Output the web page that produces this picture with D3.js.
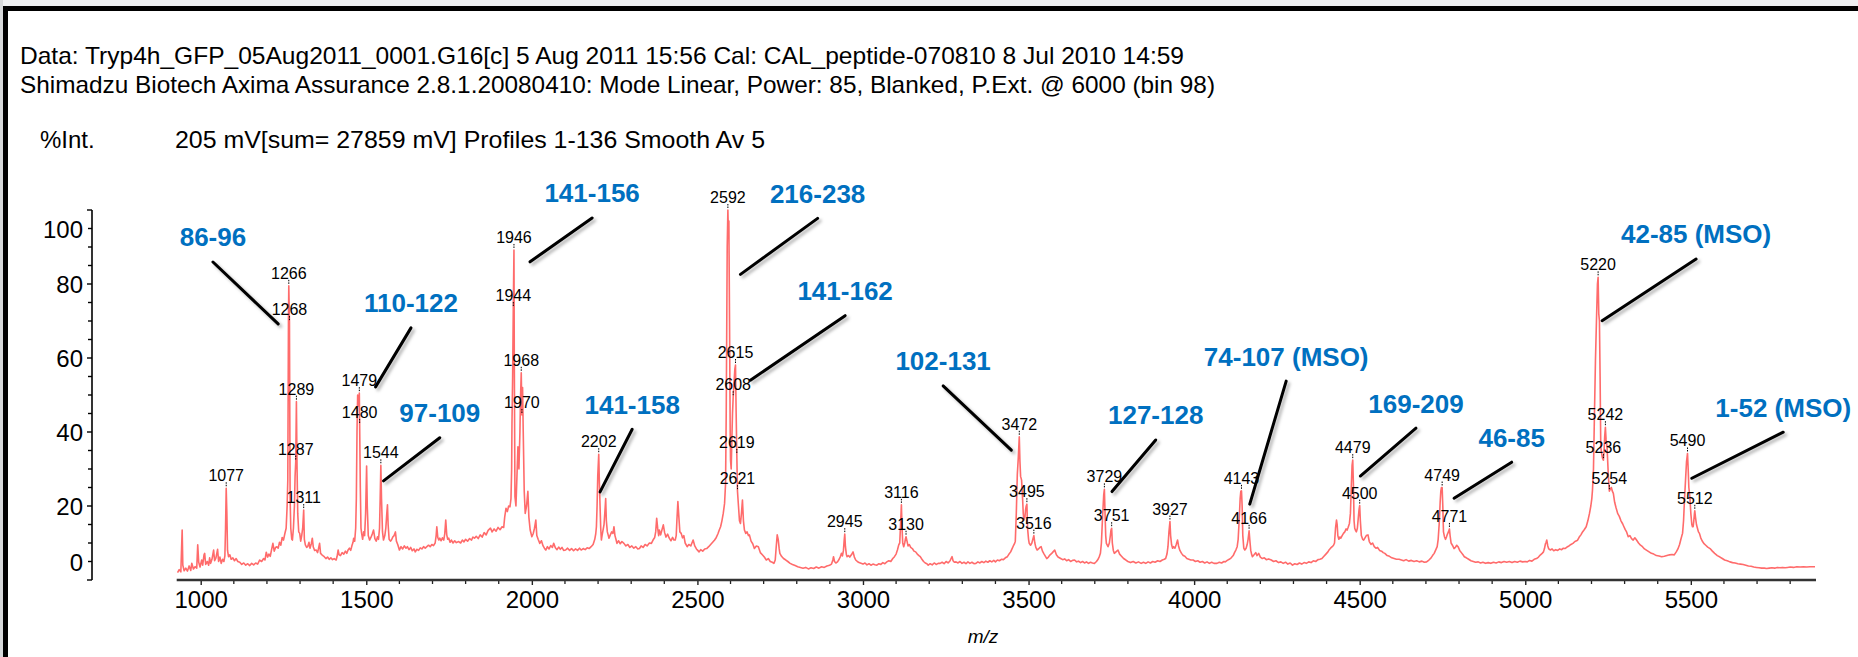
<!DOCTYPE html>
<html>
<head>
<meta charset="utf-8">
<script src="https://cdn.jsdelivr.net/npm/d3@7/dist/d3.min.js"></script>
<style>
  html, body { margin: 0; padding: 0; background: #fff; }
  svg { display: block; }
  text { font-family: "Liberation Sans", Arial, Helvetica, sans-serif; }
</style>
</head>
<body>
<svg id="chart" width="1858" height="657"></svg>
<script>
// ---- Header text ----
const headerLines = [
  "Data: Tryp4h_GFP_05Aug2011_0001.G16[c] 5 Aug 2011 15:56 Cal: CAL_peptide-070810 8 Jul 2010 14:59",
  "Shimadzu Biotech Axima Assurance 2.8.1.20080410: Mode Linear, Power: 85, Blanked, P.Ext. @ 6000 (bin 98)"
];
const intensityTitle = "%Int.";
const acquisitionInfo = "205 mV[sum= 27859 mV]  Profiles 1-136 Smooth Av 5";
const xAxisTitle = "m/z";

// ---- Axis ticks ----
const xTickValues = [1000, 1500, 2000, 2500, 3000, 3500, 4000, 4500, 5000, 5500];
const yTickValues = [0, 20, 40, 60, 80, 100];

// ---- Spectrum: [m/z, %Int] ----
const spectrum = [
[930,2.0],[935,2.8],[940,2.2],[944,13.5],[946,4.0],[950,2.5],[955,3.2],[960,2.4],[965,3.8],[970,2.6],
[973,4.5],[978,3.0],[983,3.6],[988,3.2],[991,9.5],[994,4.8],[998,3.5],[1003,5.4],[1006,4.0],[1010,6.8],
[1012,7.2],[1015,4.2],[1020,5.0],[1024,4.0],[1027,6.0],[1030,4.5],[1034,5.6],[1039,8.1],[1042,5.2],[1046,6.0],
[1051,8.3],[1054,5.0],[1058,6.2],[1062,4.5],[1066,5.6],[1070,5.0],[1073,6.5],[1075,14],[1077,24.8],[1079,18],
[1081,8],[1084,6.3],[1088,6.8],[1092,5.6],[1097,6.0],[1102,5.2],[1107,5.8],[1112,5.0],[1118,4.8],[1124,4.2],
[1130,4.6],[1136,4.0],[1142,4.4],[1148,3.9],[1154,4.5],[1160,4.1],[1166,4.6],[1172,4.3],[1178,5.4],[1184,5.0],
[1190,5.8],[1194,5.4],[1198,7.5],[1202,6.2],[1206,7.0],[1210,6.4],[1214,8.2],[1218,9.9],[1222,7.8],[1226,8.8],
[1230,9.0],[1234,8.6],[1238,10.2],[1242,9.4],[1246,11.5],[1250,10.8],[1254,12.5],[1258,14],[1261,20],[1263,27],
[1265,70],[1266,79.5],[1268,69.7],[1270,22],[1272,14],[1275,11],[1277,10.8],[1280,14],[1283,20],[1285,28],
[1287,32],[1289,48.2],[1291,30],[1293,18],[1296,13],[1299,12.6],[1302,10.5],[1305,12],[1308,14],[1311,18.9],
[1313,11],[1316,9.5],[1320,8.8],[1323,9.0],[1327,10.2],[1330,8.6],[1334,9.8],[1337,11.3],[1340,8.9],[1344,8.0],
[1349,8.1],[1353,7.4],[1356,8.6],[1359,9.9],[1362,7.2],[1366,6.8],[1370,6.5],[1373,6.3],[1378,5.8],[1383,6.2],
[1388,5.6],[1393,6.0],[1398,5.5],[1403,5.8],[1409,5.4],[1412,6.4],[1415,8.1],[1418,6.8],[1422,6.6],[1427,7.4],
[1432,7.0],[1437,7.8],[1441,7.2],[1445,8.1],[1449,8.6],[1453,8.0],[1457,9.4],[1460,10.2],[1462,11.3],[1465,10.5],
[1468,14],[1470,22],[1472,40],[1474,50],[1477,47],[1479,50.5],[1480,41.9],[1482,25],[1484,14],[1486,12.6],
[1489,11],[1492,13],[1495,12],[1498,18],[1501,30.8],[1503,20],[1506,12],[1510,10.8],[1514,11.5],[1518,12.4],
[1522,13.5],[1526,11.2],[1530,10.5],[1534,11.7],[1537,11.0],[1540,14],[1542,22],[1544,31],[1546,22],[1549,13],
[1552,10.8],[1556,12],[1559,14],[1562,18],[1564,20.3],[1566,15],[1569,11],[1573,10.5],[1576,10.8],[1580,11.6],
[1584,12],[1588,13],[1591,10.5],[1595,9.6],[1600,8.1],[1605,9.0],[1610,8.4],[1615,9.2],[1620,8.6],[1624,9.0],
[1629,8.2],[1634,8.8],[1639,7.9],[1644,8.4],[1648,7.6],[1653,8.3],[1658,8.0],[1663,8.7],[1668,8.4],[1673,9.0],
[1678,8.6],[1683,9.0],[1688,9.4],[1693,9.0],[1698,9.6],[1703,9.3],[1708,10.0],[1711,12],[1713,14.4],[1716,11.5],
[1719,10.8],[1722,11.3],[1726,10.6],[1730,11.4],[1734,10.8],[1737,12.5],[1740,16.2],[1743,12.2],[1746,11.0],[1749,11.3],
[1753,10.2],[1757,10.8],[1762,10.0],[1767,10.6],[1772,10.1],[1779,10.4],[1785,10.0],[1790,10.8],[1795,10.3],[1800,11.0],
[1806,10.5],[1812,11.2],[1818,10.8],[1822,11.6],[1827,11.3],[1832,11.8],[1838,11.2],[1844,12.2],[1850,11.6],[1856,12.8],
[1862,12.2],[1868,13.4],[1875,14],[1880,13.0],[1886,13.8],[1892,13.2],[1898,14.2],[1904,13.6],[1910,14.4],[1915,14.2],
[1918,17],[1922,19.4],[1926,18.5],[1930,20],[1934,19.8],[1937,22],[1939,30],[1940,42.3],[1942,55],[1944,73.5],
[1946,89.2],[1947,60],[1949,22.5],[1952,20],[1955,28],[1958,36],[1961,30],[1964,40],[1966,50],[1968,56],
[1970,44.6],[1972,52],[1974,40],[1977,24],[1980,18],[1984,20],[1988,24],[1991,17],[1995,13.5],[2000,11.7],
[2004,12.5],[2008,14],[2012,16.2],[2015,12],[2019,11],[2024,9.9],[2029,10.6],[2034,9.2],[2038,8.6],[2042,8.1],
[2047,9.0],[2052,8.4],[2057,9.3],[2062,8.8],[2066,9.9],[2071,8.7],[2076,8.2],[2081,8.9],[2086,8.3],[2091,8.8],
[2096,8.0],[2102,8.1],[2108,8.6],[2114,8.0],[2120,8.5],[2126,7.9],[2132,8.4],[2138,8.0],[2144,8.6],[2149,8.1],
[2155,8.5],[2161,8.2],[2167,8.7],[2173,8.5],[2179,9.0],[2185,9.6],[2190,11],[2193,12.5],[2195,14.4],[2197,20],
[2199,28],[2202,34],[2204,26],[2206,20],[2208,14],[2210,10.8],[2212,12],[2215,13.5],[2218,15],[2221,19],
[2223,22],[2225,16],[2228,13],[2231,12],[2233,11.3],[2237,12.2],[2241,13],[2245,12.6],[2248,14.4],[2251,12],
[2254,11],[2257,9.9],[2262,10.6],[2267,9.8],[2272,10.4],[2278,9.9],[2284,9.2],[2290,9.6],[2296,8.8],[2302,9.2],
[2308,8.6],[2314,9.0],[2320,8.4],[2325,8.5],[2330,9.2],[2336,8.8],[2342,9.6],[2348,9.2],[2355,10.0],[2361,9.9],
[2366,10.8],[2371,11.5],[2374,13],[2377,16.7],[2380,14],[2383,12],[2385,13.5],[2389,12.2],[2393,13.6],[2397,14.9],
[2401,12.8],[2405,11.6],[2410,12.4],[2415,11.3],[2420,10.6],[2425,11.5],[2429,10.8],[2433,10.8],[2436,12],[2438,16],
[2441,21.2],[2444,17],[2447,13],[2451,12.6],[2455,11.4],[2459,12],[2463,10],[2469,9.0],[2474,9.6],[2480,9.2],
[2487,10.8],[2492,9.2],[2497,8.4],[2501,8.0],[2505,7.6],[2510,8.2],[2516,7.8],[2522,8.4],[2528,8.5],[2534,9.0],
[2540,9.6],[2546,10.2],[2552,10.8],[2557,11.5],[2562,12.5],[2566,13.5],[2570,14.4],[2574,16],[2578,18],[2582,20.7],
[2585,26],[2587,45],[2590,90],[2592,100],[2593,96],[2595,97],[2597,70],[2599,40],[2600,32.4],[2602,30],
[2604,38],[2606,45],[2608,49.4],[2611,54],[2613,57],[2615,58.1],[2617,45],[2619,33.8],[2621,24],[2624,20],
[2627,16],[2630,15.3],[2633,18],[2636,21.6],[2639,16],[2642,13.5],[2646,12.6],[2650,13],[2654,12],[2657,12.2],
[2662,10.5],[2667,9.8],[2672,8.5],[2678,9.2],[2684,9.0],[2690,7.4],[2696,6.8],[2702,6.2],[2708,5.4],[2714,5.8],
[2720,5.0],[2726,4.8],[2731,4.5],[2735,5.4],[2738,9],[2741,12.2],[2744,11],[2747,8.4],[2749,7.2],[2754,6.4],
[2760,5.8],[2767,5.4],[2773,5.0],[2780,4.5],[2787,4.2],[2795,3.9],[2803,3.6],[2811,3.4],[2819,3.2],[2827,3.4],
[2835,3.0],[2843,3.3],[2851,3.1],[2859,3.5],[2867,3.2],[2875,3.6],[2883,3.4],[2891,3.8],[2899,4.0],[2905,4.3],
[2909,5.4],[2911,6.3],[2914,5.0],[2918,4.6],[2923,4.9],[2928,5.6],[2932,6.4],[2935,7.2],[2938,6.5],[2941,8],
[2943,10.5],[2945,12.4],[2947,9],[2950,6.8],[2952,6.3],[2956,6.6],[2960,6.2],[2965,6.8],[2970,7.6],[2974,6.2],
[2978,5.4],[2983,5.0],[2988,4.7],[2994,4.5],[3000,4.3],[3006,4.6],[3012,4.1],[3018,4.4],[3024,4.0],[3030,4.3],
[3036,4.1],[3042,4.0],[3048,4.4],[3054,4.2],[3060,4.7],[3066,4.4],[3072,4.9],[3078,5.2],[3084,5.0],[3090,5.8],
[3095,6.3],[3100,7.0],[3104,8.1],[3108,9.5],[3111,10],[3113,14],[3116,20.3],[3118,14],[3120,10],[3123,9.0],
[3126,10],[3128,11],[3130,11.7],[3133,10.5],[3136,9.2],[3140,9.6],[3144,8.8],[3149,8.5],[3154,7.8],[3159,7.6],
[3164,7.0],[3169,6.6],[3173,6.3],[3178,5.6],[3183,5.0],[3188,4.6],[3193,4.4],[3197,4.0],[3203,4.4],[3209,4.1],
[3215,4.6],[3221,4.2],[3227,4.5],[3233,4.5],[3239,4.8],[3245,4.4],[3251,5.0],[3257,4.6],[3263,5.2],[3266,5.8],
[3269,6.3],[3272,5.2],[3276,4.8],[3281,4.9],[3287,4.6],[3293,5.0],[3299,4.5],[3305,4.8],[3311,4.4],[3317,4.9],
[3323,4.5],[3329,4.8],[3335,4.4],[3341,4.5],[3347,4.9],[3353,4.6],[3359,5.0],[3365,4.7],[3371,5.1],[3377,4.8],
[3383,5.2],[3389,4.9],[3395,5.3],[3400,4.9],[3406,5.4],[3412,5.2],[3418,5.6],[3424,5.5],[3430,6.0],[3436,6.3],
[3441,7.0],[3446,7.6],[3450,8.4],[3454,9.2],[3458,9.9],[3460,10.5],[3463,18],[3466,28.4],[3469,33],[3472,38.7],
[3474,32],[3476,28],[3479,27],[3482,22],[3484,18],[3486,16.2],[3489,17],[3491,19],[3493,20],[3495,20.5],
[3497,14],[3500,11],[3502,9.9],[3506,9.4],[3510,10],[3513,11],[3516,12],[3519,10],[3522,8.8],[3526,8.1],
[3530,8.4],[3534,8.8],[3538,9.0],[3542,7.8],[3547,7.0],[3551,6.4],[3555,5.8],[3560,6.2],[3565,6.8],[3570,7.2],
[3574,7.6],[3579,8.1],[3584,6.8],[3589,6.2],[3593,6.0],[3597,5.8],[3603,5.5],[3609,5.7],[3615,5.2],[3621,5.5],
[3627,5.0],[3633,5.3],[3639,5.4],[3645,4.9],[3651,5.1],[3657,4.7],[3663,5.0],[3669,4.6],[3675,4.9],[3681,4.5],
[3687,4.8],[3693,4.6],[3699,4.5],[3705,5.0],[3710,5.6],[3714,6.4],[3717,7.2],[3720,10],[3724,18],[3727,23],
[3729,24.5],[3731,18],[3733,12],[3735,9.9],[3740,9.0],[3744,10],[3747,12],[3749,13.5],[3751,14],[3753,10],
[3756,8],[3759,7.2],[3764,7.6],[3770,8.1],[3775,7.0],[3780,6.5],[3787,5.8],[3794,5.4],[3800,5.0],[3808,4.7],
[3816,5.0],[3824,4.6],[3832,4.9],[3840,4.5],[3847,4.8],[3854,4.5],[3861,4.9],[3868,4.6],[3875,5.0],[3882,4.8],
[3890,5.2],[3897,5.0],[3904,5.4],[3910,5.6],[3914,5.8],[3918,7],[3921,9],[3924,13],[3927,15.8],[3929,12],
[3932,9.5],[3935,8.6],[3938,9.0],[3942,8.6],[3946,9.6],[3950,10.8],[3953,9.2],[3957,8.0],[3962,7.2],[3967,6.6],
[3972,6.4],[3978,5.8],[3984,5.6],[3990,5.4],[3997,5.4],[4004,5.0],[4011,5.2],[4018,4.8],[4025,5.0],[4032,4.6],
[4039,4.9],[4046,4.5],[4053,4.8],[4060,4.5],[4069,4.5],[4076,4.8],[4083,4.6],[4090,5.0],[4094,4.9],[4100,5.3],
[4106,5.6],[4112,6.0],[4118,6.6],[4122,7.4],[4126,8.1],[4130,9],[4133,11],[4136,16],[4139,22],[4141,24],
[4143,24.1],[4145,20],[4147,12],[4150,8.6],[4153,8.1],[4157,8.6],[4160,9.5],[4163,11],[4166,13.3],[4168,11],
[4171,8],[4174,6.8],[4176,6.3],[4181,6.8],[4186,7.4],[4190,6.6],[4195,7.2],[4200,6.2],[4206,5.8],[4212,6.0],
[4218,5.5],[4225,5.7],[4233,5.4],[4240,5.0],[4247,5.2],[4255,4.7],[4262,4.9],[4269,4.5],[4276,4.8],[4283,4.3],
[4290,4.6],[4297,4.0],[4304,4.4],[4311,4.2],[4318,4.6],[4325,4.3],[4332,4.7],[4339,4.5],[4346,4.9],[4353,4.7],
[4360,5.2],[4367,5.0],[4374,5.5],[4380,5.6],[4386,5.8],[4392,6.4],[4398,7.0],[4404,7.6],[4408,8.2],[4412,8.6],
[4417,9.0],[4421,9.4],[4424,10],[4427,14],[4430,16.2],[4432,15],[4434,12],[4437,11],[4440,11.6],[4443,11.3],
[4447,12],[4451,12.6],[4455,13],[4459,13.8],[4462,13.5],[4465,14.2],[4469,15.3],[4472,18],[4475,26],[4477,31],
[4479,32.4],[4481,26],[4483,16],[4485,14],[4487,13.5],[4490,13],[4493,14],[4496,17],[4498,19],[4500,20.1],
[4502,16],[4505,12],[4509,11],[4512,10.8],[4516,11.4],[4520,12],[4525,12.2],[4529,10.4],[4534,9.6],[4539,10],
[4544,9.0],[4549,8.6],[4554,8.8],[4560,8.0],[4566,7.8],[4571,7.4],[4576,7.2],[4583,6.6],[4590,6.4],[4597,6.0],
[4604,5.8],[4611,5.6],[4619,5.6],[4626,5.4],[4633,5.2],[4640,5.5],[4648,5.1],[4656,5.3],[4664,5.0],[4672,5.2],
[4680,4.9],[4688,5.1],[4695,4.8],[4702,4.9],[4709,5.4],[4715,5.9],[4720,6.6],[4725,7.2],[4729,8.0],[4732,8.6],
[4734,9],[4737,11],[4740,15],[4743,21],[4745,24],[4747,25],[4749,25],[4751,20],[4753,13],[4756,11.7],
[4759,11],[4762,11.6],[4765,12.4],[4768,13],[4771,13.8],[4773,12],[4776,10],[4780,9.4],[4785,8.5],[4789,8.8],
[4793,9.4],[4797,9.0],[4802,8.0],[4807,7.4],[4812,6.8],[4816,6.3],[4822,6.0],[4829,5.6],[4836,5.2],[4843,5.0],
[4850,4.8],[4858,4.9],[4865,4.6],[4872,4.8],[4880,4.5],[4888,4.7],[4896,4.5],[4904,4.8],[4912,4.6],[4920,4.9],
[4928,4.7],[4936,5.0],[4944,4.8],[4952,5.0],[4960,4.7],[4968,5.0],[4976,4.8],[4984,5.1],[4992,4.9],[5000,5.0],
[5006,4.9],[5013,5.3],[5020,5.1],[5027,5.6],[5034,5.8],[5040,6.2],[5046,6.8],[5051,7.2],[5055,7.6],[5058,8.5],
[5061,9.8],[5063,10.2],[5065,10.8],[5068,9.2],[5071,8.4],[5076,8.1],[5081,8.4],[5086,7.9],[5092,8.2],[5098,8.0],
[5104,8.4],[5110,8.2],[5115,8.6],[5120,8.5],[5126,8.9],[5132,9.2],[5138,9.6],[5144,9.9],[5150,10.4],[5155,10.6],
[5158,10.8],[5163,11.6],[5168,12.2],[5173,13],[5178,13.6],[5184,14.4],[5189,16],[5194,18],[5198,20],[5201,22],
[5203,24.3],[5206,30],[5209,45],[5212,59.4],[5215,70],[5218,80],[5220,81.8],[5222,72],[5224,70],[5226,55],
[5228,36],[5231,34],[5233,33],[5236,32.4],[5238,35],[5240,39],[5242,41.3],[5244,38],[5247,36],[5249,32],
[5251,28],[5254,24],[5257,24.6],[5260,25],[5263,24],[5266,23.4],[5270,21],[5274,19.6],[5279,18],[5284,17.2],
[5289,16],[5294,15.2],[5298,14.4],[5302,13.6],[5306,13],[5311,11.7],[5316,12],[5321,11.2],[5326,10.8],[5331,11.4],
[5336,10.8],[5342,10],[5348,9.4],[5354,9.0],[5360,8.4],[5367,8.0],[5374,7.6],[5381,7.2],[5388,7.0],[5396,6.6],
[5404,6.5],[5412,6.3],[5420,6.4],[5428,6.6],[5436,6.8],[5443,6.9],[5450,6.8],[5456,7.6],[5461,8.4],[5466,9.6],
[5470,11],[5473,12],[5475,12.6],[5478,16],[5481,22],[5484,27],[5487,32],[5490,34.2],[5492,30],[5494,25],
[5497,22.5],[5500,18],[5503,15],[5505,14.4],[5507,14.4],[5509,16],[5511,18],[5512,18.7],[5514,17],[5517,15],
[5520,14],[5523,13],[5526,12.6],[5530,11.4],[5534,10.6],[5539,9.9],[5545,9.4],[5551,8.9],[5558,8.5],[5565,7.8],
[5572,7.2],[5580,6.6],[5588,6.2],[5595,5.8],[5602,5.4],[5610,5.2],[5618,4.9],[5626,4.7],[5634,4.6],[5642,4.4],
[5650,4.3],[5658,4.2],[5666,4.0],[5674,3.8],[5682,3.7],[5690,3.5],[5698,3.4],[5706,3.3],[5714,3.2],[5722,3.2],
[5729,3.1],[5737,3.2],[5745,3.3],[5753,3.2],[5761,3.4],[5769,3.3],[5777,3.4],[5785,3.3],[5792,3.4],[5800,3.5],
[5810,3.4],[5820,3.6],[5830,3.5],[5840,3.6],[5850,3.5],[5860,3.6],[5875,3.6]
];

// ---- Picked peaks (m/z label and intensity at the marker) ----
const peakMz  = [1077,1266,1268,1287,1289,1311,1479,1480,1544,1944,1946,1968,1970,2202,
                 2592,2608,2615,2619,2621,2945,3116,3130,3472,3495,3516,3729,3751,3927,
                 4143,4166,4479,4500,4749,4771,5220,5236,5242,5254,5490,5512];
const peakInt = [24.8,79.5,69.7,32,48.2,18.9,50.5,41.9,31,73.5,89.2,56,44.6,34,
                 100,49.4,58.1,33.8,24,12.4,20.3,11.7,38.7,20.5,12,24.5,14,15.8,
                 24.1,13.3,32.4,20.1,25,13.8,81.8,32.4,41.3,24,34.2,18.7];

// ---- Peptide assignments: label anchor and leader end, in (m/z, %Int) ----
const fragText = ["86-96","110-122","97-109","141-156","141-158","216-238","141-162",
                  "102-131","127-128","74-107 (MSO)","169-209","46-85","42-85 (MSO)","1-52 (MSO)"];
const fragMz   = [1037,1635,1722,2182,2303,2863,2946,3242,3884,4278,4670,4959,5516,5779];
const fragInt  = [92.7,74.9,45.2,104.6,47.5,104.5,78.2,59.2,44.6,60.5,47.8,38.6,93.5,46.7];
const leaderMz  = [1233.8,1528,1552,1994.6,2206,2630,2660,3448,3752,4168,4502,4785,5232,5503];
const leaderInt = [69.2,52.2,26.8,86,23.8,82.6,54,35.1,23.9,20.5,28.1,22.1,70.1,27.5];

// ================= drawing =================
const W = 1858, H = 657;
const svg = d3.select("#chart");

// page frame
svg.append("rect").attr("x",0).attr("y",0).attr("width",W).attr("height",H).attr("fill","#fff");
svg.append("rect").attr("x",0).attr("y",0).attr("width",W).attr("height",6).attr("fill","#eeeff1");
svg.append("rect").attr("x",0).attr("y",0).attr("width",3).attr("height",H).attr("fill","#d6d8da");
svg.append("rect").attr("x",3).attr("y",6).attr("width",W-3).attr("height",5).attr("fill","#000");
svg.append("rect").attr("x",3).attr("y",6).attr("width",5).attr("height",H-6).attr("fill","#000");

const defs = svg.append("defs");
const shadow = defs.append("filter").attr("id","leaderShadow")
  .attr("x","-20%").attr("y","-20%").attr("width","140%").attr("height","140%");
shadow.append("feDropShadow").attr("dx",2.5).attr("dy",2.5).attr("stdDeviation",1.8)
  .attr("flood-color","#000").attr("flood-opacity",0.3);

// header
svg.append("text").attr("x",20).attr("y",64).attr("font-size",24)
  .attr("textLength",1164).attr("lengthAdjust","spacingAndGlyphs").text(headerLines[0]);
svg.append("text").attr("x",20).attr("y",92.5).attr("font-size",24)
  .attr("textLength",1195).attr("lengthAdjust","spacingAndGlyphs").text(headerLines[1]);
svg.append("text").attr("x",40).attr("y",148).attr("font-size",24).text(intensityTitle);
svg.append("text").attr("x",175).attr("y",148).attr("font-size",24)
  .attr("textLength",590).attr("lengthAdjust","spacingAndGlyphs").text(acquisitionInfo);

// scales
const x = d3.scaleLinear().domain([927.5, 5878]).range([176.7, 1816]);
const y = d3.scaleLinear().domain([0, 100]).range([580, 210]);

// y axis (ticks every 5 %, labels every 20 %)
const yAxisX = 92;
svg.append("line").attr("x1",yAxisX).attr("x2",yAxisX).attr("y1",y(100)).attr("y2",y(0))
  .attr("stroke","#000").attr("stroke-width",1.6);
svg.append("g").selectAll("line").data(d3.range(0, 101, 5)).join("line")
  .attr("x1", d => yAxisX - (d % 20 === 0 ? 5 : 4)).attr("x2", yAxisX)
  .attr("y1", d => y(d)).attr("y2", d => y(d))
  .attr("stroke","#000").attr("stroke-width",1.4);
svg.append("g").selectAll("text").data(yTickValues).join("text")
  .attr("x", 83)
  .attr("y", d => y(d) + (d === 100 ? 19 : d === 0 ? -18 : 0))
  .attr("dy","0.36em").attr("text-anchor","end").attr("font-size",24)
  .text(d => d);

// x axis
const xAxisY = 580;
const xAxis = d3.axisBottom(x).tickValues(xTickValues).tickSize(5).tickPadding(6).tickFormat(d3.format("d"));
const gx = svg.append("g").attr("transform", `translate(0,${xAxisY})`).call(xAxis);
gx.select(".domain").remove();
gx.selectAll(".tick line").attr("stroke","#222").attr("stroke-width",1.4);
gx.selectAll(".tick text").attr("font-size",24).attr("fill","#000")
  .attr("font-family","'Liberation Sans', Arial, sans-serif").attr("dy","0.71em");
svg.append("g").selectAll("line")
  .data(d3.range(1000, 5878, 100).filter(v => v % 500 !== 0)).join("line")
  .attr("x1", d => x(d)).attr("x2", d => x(d)).attr("y1", xAxisY).attr("y2", xAxisY + 4)
  .attr("stroke","#222").attr("stroke-width",1.3);
svg.append("line").attr("x1",x.range()[0]).attr("x2",x.range()[1]).attr("y1",xAxisY).attr("y2",xAxisY)
  .attr("stroke","#333").attr("stroke-width",2.4);
svg.append("text").attr("x",983).attr("y",643).attr("text-anchor","middle")
  .attr("font-size",19).attr("font-style","italic").text(xAxisTitle);

// spectrum trace
const line = d3.line().x(d => x(d[0])).y(d => y(d[1]));
svg.append("path").datum(spectrum).attr("d", line)
  .attr("fill","none").attr("stroke","#ff6b6b").attr("stroke-width",1.6)
  .attr("stroke-linejoin","round");

// picked peak labels
const peaks = peakMz.map((m, i) => ({ mz: m, v: peakInt[i] }));
const gp = svg.append("g");
gp.selectAll("line").data(peaks).join("line")
  .attr("x1", d => x(d.mz)).attr("x2", d => x(d.mz))
  .attr("y1", d => y(d.v) - 6).attr("y2", d => y(d.v) - 1)
  .attr("stroke","#000").attr("stroke-width",1).attr("stroke-dasharray","1.5,1");
gp.selectAll("text").data(peaks).join("text")
  .attr("x", d => x(d.mz)).attr("y", d => y(d.v) - 7)
  .attr("text-anchor","middle").attr("font-size",16).attr("fill","#000")
  .text(d => d.mz);

// peptide assignments with leader lines
const frags = fragText.map((t, i) => ({
  t, mz: fragMz[i], v: fragInt[i], lm: leaderMz[i], lv: leaderInt[i]
}));
const gf = svg.append("g");
gf.selectAll("line").data(frags).join("line")
  .attr("x1", d => x(d.mz)).attr("y1", d => y(d.v) + 25)
  .attr("x2", d => x(d.lm)).attr("y2", d => y(d.lv))
  .attr("stroke","#000").attr("stroke-width",3).attr("stroke-linecap","round")
  .attr("filter","url(#leaderShadow)");
gf.selectAll("text").data(frags).join("text")
  .attr("x", d => x(d.mz)).attr("y", d => y(d.v))
  .attr("dy","0.36em").attr("text-anchor","middle")
  .attr("font-size",26).attr("font-weight","bold").attr("fill","#0070c0")
  .text(d => d.t);
</script>
</body>
</html>
